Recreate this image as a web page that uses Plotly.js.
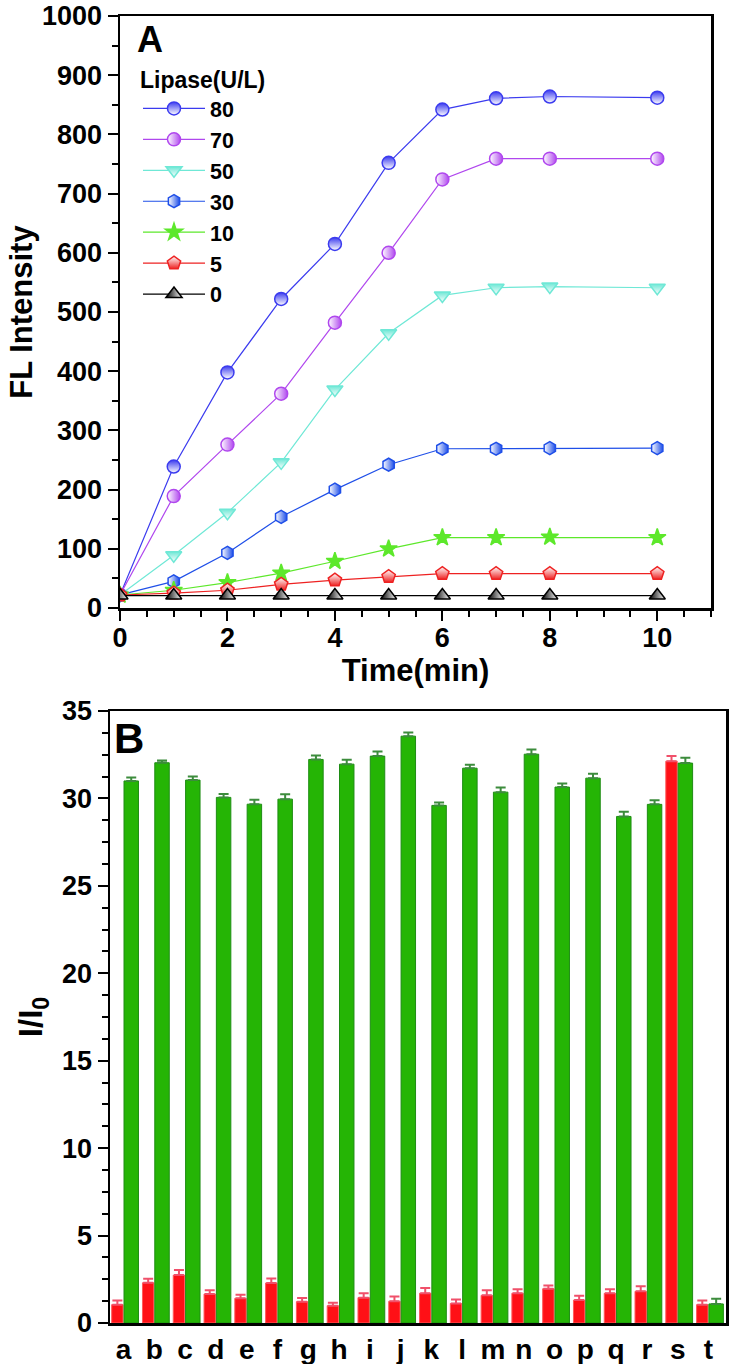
<!DOCTYPE html>
<html><head><meta charset="utf-8">
<script src="https://cdn.plot.ly/plotly-3.0.1.min.js"></script>
<style>html,body{margin:0;padding:0;background:#fff;}</style>
</head><body><div id="chart" style="width:730px;height:1364px;"></div>
<script>
// ---- Panel A data ----
const times = [0, 1, 2, 3, 4, 5, 6, 7, 8, 10];
const fl80 = [22, 239, 398, 522, 615, 752, 842, 861, 864, 862];
const fl70 = [22, 189, 276, 362, 482, 600, 724, 759, 759, 759];
const fl50 = [22, 89, 161, 246, 369, 464, 528, 541, 543, 541];
const fl30 = [22, 45, 93, 154, 200, 242, 269, 269, 270, 270];
const fl10 = [22, 30, 43, 59, 79, 100, 119, 119, 120, 119];
const fl5  = [22, 25, 30, 40, 47, 53, 58, 58, 58, 58];
const fl0  = [21, 21, 21, 21, 21, 21, 21, 21, 21, 21];
const lipaseLabels = ['80', '70', '50', '30', '10', '5', '0'];

// ---- Panel B data ----
const samples = ['a','b','c','d','e','f','g','h','i','j','k','l','m','n','o','p','q','r','s','t'];
const redRatio = [1.05, 2.30, 2.74, 1.66, 1.41, 2.29, 1.22, 0.99, 1.45, 1.24, 1.70, 1.12, 1.58, 1.70, 1.96, 1.31, 1.70, 1.81, 32.13, 1.05];
const redErr   = [0.23, 0.23, 0.29, 0.21, 0.21, 0.25, 0.21, 0.17, 0.25, 0.27, 0.30, 0.23, 0.29, 0.23, 0.19, 0.25, 0.23, 0.29, 0.30, 0.23];
const greenRatio = [31.00, 32.04, 31.05, 30.06, 29.67, 29.96, 32.23, 31.96, 32.42, 33.56, 29.60, 31.73, 30.36, 32.53, 30.65, 31.16, 28.97, 29.66, 32.02, 1.09];
const greenErr   = [0.20, 0.13, 0.20, 0.20, 0.25, 0.28, 0.23, 0.25, 0.27, 0.21, 0.17, 0.19, 0.27, 0.27, 0.21, 0.25, 0.27, 0.23, 0.30, 0.30];

const seriesA = [fl80, fl70, fl50, fl30, fl10, fl5, fl0];
const styles = [
  {c:'#3b3bef', sym:'circle', mc:'#3b3bef', g:'vertical', gc:'#ffffff', size:13},
  {c:'#b047ee', sym:'circle', mc:'#ffffff', g:'horizontal', gc:'#b047ee', size:13},
  {c:'#6fe8d6', sym:'triangle-down', mc:'#6fe8d6', g:'vertical', gc:'#ffffff', size:14},
  {c:'#1f4fe8', sym:'hexagon', mc:'#ffffff', g:'horizontal', gc:'#1f4fe8', size:13},
  {c:'#5de82b', sym:'star', mc:'#5de82b', g:'none', gc:'#5de82b', size:13},
  {c:'#ee2222', sym:'pentagon', mc:'#ffffff', g:'vertical', gc:'#ee2222', size:14},
  {c:'#000000', sym:'triangle-up', mc:'#000000', g:'horizontal', gc:'#ffffff', size:14}
];

const traces = seriesA.map((ys, i) => ({
  type: 'scatter', mode: 'lines+markers',
  x: times, y: ys, name: lipaseLabels[i],
  xaxis: 'x', yaxis: 'y',
  line: {color: styles[i].c, width: 1.2},
  marker: {symbol: styles[i].sym, size: styles[i].size, color: styles[i].mc,
           gradient: {type: styles[i].g, color: styles[i].gc},
           line: {color: styles[i].c, width: 1.5}},
  showlegend: true
}));

traces.push({
  type: 'bar', x: samples, y: redRatio, xaxis: 'x2', yaxis: 'y2',
  width: 0.37, offset: -0.385, showlegend: false,
  marker: {color: '#ff1016', line: {color: '#ff5a5a', width: 1}},
  error_y: {type: 'data', symmetric: false, array: redErr, arrayminus: redErr.map(() => 0),
            color: '#f0506a', thickness: 2, width: 5}
});
traces.push({
  type: 'bar', x: samples, y: greenRatio, xaxis: 'x2', yaxis: 'y2',
  width: 0.47, offset: 0.015, showlegend: false,
  marker: {color: '#25b505', line: {color: '#1e8c14', width: 1}},
  error_y: {type: 'data', symmetric: false, array: greenErr, arrayminus: greenErr.map(() => 0),
            color: '#3c8c3c', thickness: 2, width: 5}
});

const F = 'Liberation Sans, Arial, sans-serif';
const axCommon = {
  showline: true, linecolor: '#000', linewidth: 2.5, mirror: true,
  showgrid: false, zeroline: false,
  ticks: 'outside', tickcolor: '#000', tickwidth: 2, ticklen: 10,
  tickfont: {family: F, size: 27, color: '#000', weight: 'bold'}
};

const layout = {
  width: 730, height: 1364,
  margin: {l: 0, r: 0, t: 0, b: 0},
  paper_bgcolor: '#fff', plot_bgcolor: '#fff',
  font: {family: F, color: '#000', weight: 'bold'},
  bargap: 0,
  xaxis: Object.assign({}, axCommon, {
    domain: [120/730, 711/730], anchor: 'y', range: [0, 11],
    tickvals: [0, 2, 4, 6, 8, 10], ticktext: ['0','2','4','6','8','10'],
    ticklabelstandoff: -6,
    minor: {dtick: 0.5, ticks: 'outside', ticklen: 6, tickwidth: 2, tickcolor: '#000'},
    title: {text: 'Time(min)', font: {family: F, size: 31, weight: 'bold'}, standoff: 0}
  }),
  yaxis: Object.assign({}, axCommon, {
    domain: [1 - 608/1364, 1 - 16/1364], anchor: 'x', range: [0, 1000], dtick: 100,
    minor: {dtick: 50, ticks: 'outside', ticklen: 6, tickwidth: 2, tickcolor: '#000'},
    title: {text: 'FL Intensity', font: {family: F, size: 31, weight: 'bold'}, standoff: 0}
  }),
  xaxis2: Object.assign({}, axCommon, {
    domain: [110/730, 726/730], anchor: 'y2', type: 'category', range: [-0.44, 19.57],
    ticks: '', tickmode: 'linear', tick0: 0, dtick: 1,
    tickfont: {family: F, size: 28, color: '#000', weight: 'bold'}
  }),
  yaxis2: Object.assign({}, axCommon, {
    domain: [1 - 1323/1364, 1 - 711/1364], anchor: 'x2', range: [0, 35], dtick: 5,
    minor: {dtick: 1.25, ticks: 'outside', ticklen: 6, tickwidth: 2, tickcolor: '#000'},
    title: {text: 'I/I<sub>0</sub>', font: {family: F, size: 33, weight: 'bold'}, standoff: 10}
  }),
  legend: {
    x: 138/730, y: 1 - 58/1364, xanchor: 'left', yanchor: 'top',
    bgcolor: 'rgba(0,0,0,0)', borderwidth: 0,
    font: {family: F, size: 21.5, color: '#000', weight: 'bold'},
    title: {text: 'Lipase(U/L)', font: {family: F, size: 23, weight: 'bold'}},
    tracegroupgap: 0, itemwidth: 62
  },
  annotations: [
    {text: 'A', xref: 'paper', yref: 'paper', x: 150/730, y: 1 - 40/1364,
     xanchor: 'center', yanchor: 'middle', showarrow: false,
     font: {family: F, size: 36, color: '#000', weight: 'bold'}},
    {text: 'B', xref: 'paper', yref: 'paper', x: 129/730, y: 1 - 738/1364,
     xanchor: 'center', yanchor: 'middle', showarrow: false,
     font: {family: F, size: 42, color: '#000', weight: 'bold'}}
  ],
  showlegend: true
};

Plotly.newPlot('chart', traces, layout, {displayModeBar: false, staticPlot: true});
</script>
</body></html>
